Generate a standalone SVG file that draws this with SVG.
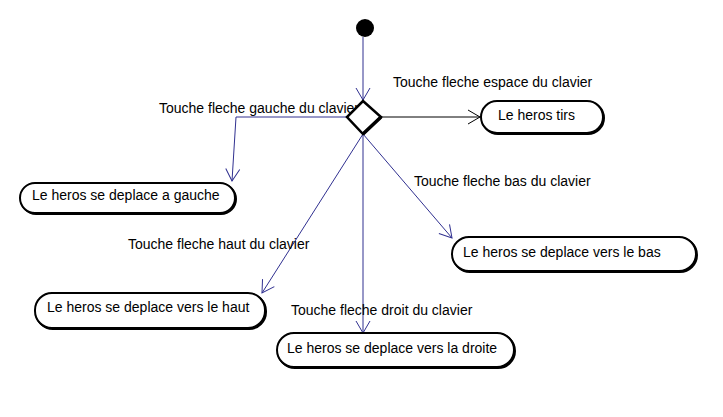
<svg xmlns="http://www.w3.org/2000/svg" width="723" height="417" viewBox="0 0 723 417">
<style>
text{font-family:"Liberation Sans",Arial,sans-serif;font-size:14px;fill:#000}
.edge{fill:none;stroke:#303090;stroke-width:1}
.edge.k{stroke:#000}
.shadow{fill:none;stroke:#000;stroke-width:2}
.box{fill:#fff;stroke:#000;stroke-width:2}
</style>
<defs>
<marker id="arr" markerUnits="userSpaceOnUse" markerWidth="30" markerHeight="30" refX="15" refY="15" orient="auto">
<path d="M3,8 L15,15 L3,22" fill="none" stroke="#303090" stroke-width="1"/>
</marker>
<marker id="arrk" markerUnits="userSpaceOnUse" markerWidth="30" markerHeight="30" refX="15" refY="15" orient="auto">
<path d="M3,8 L15,15 L3,22" fill="none" stroke="#000" stroke-width="1"/>
</marker>
</defs>
<g id="connectors">
<line class="edge" x1="363" y1="37" x2="363" y2="100" marker-end="url(#arr)"/>
<line class="edge k" x1="381" y1="117" x2="480" y2="117" marker-end="url(#arrk)"/>
<polyline class="edge" points="347,117 236,117 232,181" marker-end="url(#arr)"/>
<line class="edge" x1="363" y1="134" x2="452" y2="238" marker-end="url(#arr)"/>
<line class="edge" x1="363" y1="134" x2="262" y2="293" marker-end="url(#arr)"/>
<line class="edge" x1="363" y1="134" x2="363" y2="333" marker-end="url(#arr)"/>
<text x="393" y="87">Touche fleche espace du clavier</text>
<text x="159" y="113">Touche fleche gauche du clavier</text>
<text x="414" y="186">Touche fleche bas du clavier</text>
<text x="128" y="249">Touche fleche haut du clavier</text>
<text x="291" y="315">Touche fleche droit du clavier</text>
</g>
<g id="start">
<circle cx="365" cy="28" r="9" fill="#000"/>
</g>
<g id="decision">
<polygon points="363,101 381,117 363,134 347,117" fill="#fff" stroke="#000" stroke-width="2.5"/>
<polyline points="381,117 363,134" fill="none" stroke="#000" stroke-width="3.5"/>
</g>
<g id="tirs">
<rect class="shadow" x="482" y="102" width="122" height="32" rx="16"/>
<rect class="box" x="481" y="101" width="122" height="32" rx="16"/>
<text x="498" y="120">Le heros tirs</text>
</g>
<g id="gauche">
<rect class="shadow" x="21" y="184" width="215" height="30" rx="15"/>
<rect class="box" x="20" y="183" width="215" height="30" rx="15"/>
<text x="32" y="200">Le heros se deplace a gauche</text>
</g>
<g id="bas">
<rect class="shadow" x="453" y="238" width="244" height="34" rx="17"/>
<rect class="box" x="452" y="237" width="244" height="34" rx="17"/>
<text x="463" y="257">Le heros se deplace vers le bas</text>
</g>
<g id="haut">
<rect class="shadow" x="36" y="294" width="230" height="35" rx="17"/>
<rect class="box" x="35" y="293" width="230" height="35" rx="17"/>
<text x="47" y="312">Le heros se deplace vers le haut</text>
</g>
<g id="droite">
<rect class="shadow" x="278" y="334" width="237" height="34" rx="17"/>
<rect class="box" x="277" y="333" width="237" height="34" rx="17"/>
<text x="287" y="353">Le heros se deplace vers la droite</text>
</g>
</svg>
